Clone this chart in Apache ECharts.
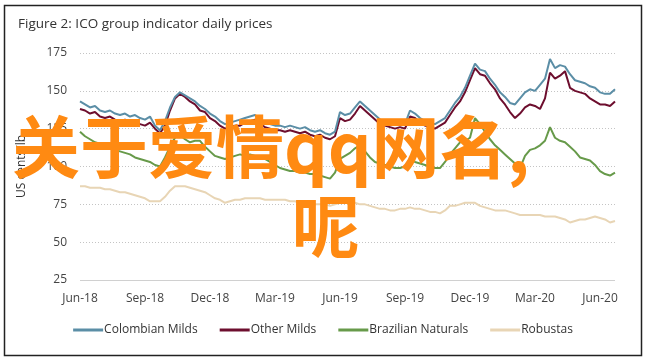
<!DOCTYPE html>
<html><head><meta charset="utf-8">
<script src="https://cdn.jsdelivr.net/npm/echarts@6/dist/echarts.min.js"></script>
<style>html,body{margin:0;padding:0;background:#fff}#c{width:646px;height:360px}</style>
</head><body><div id="c"></div>
<script>
const tickLabels = ['Jun-18','Sep-18','Dec-18','Mar-19','Jun-19','Sep-19','Dec-19','Mar-20','Jun-20'];
const seriesNames = ['Colombian Milds','Other Milds','Brazilian Naturals','Robustas'];
const colombian = [143,141,139,140,137,136,137,135,134,135,133,134,132,131,133,127,124,130,139,146,149,147,145,143,140,138,135,133,130,128,129,130,131,132,133,134,131,129,128,127,127,126,127,126,125,126,124,123,124,122,121,123,136,134,135,139,143,140,137,134,131,130,129,128,129,128,137,135,132,130,129,128,130,132,137,142,146,152,160,168,164,163,158,154,149,146,142,141,145,149,151,150,154,158,171,165,167,166,161,157,156,155,153,152,149,148,148,151];
const otherMilds = [138,137,135,136,133,132,133,131,130,131,129,130,128,127,129,125,122,127,137,145,148,146,143,141,137,136,132,130,127,125,126,127,127,129,130,131,128,126,125,124,124,123,124,123,122,123,121,120,121,119,118,120,132,130,131,135,140,137,134,131,128,127,126,125,126,125,133,132,129,127,126,125,127,129,134,139,143,149,157,165,161,160,155,151,145,141,136,132,135,139,141,140,138,145,162,158,160,163,152,150,149,148,145,143,141,141,140,143];
const brazilian = [123,120,118,116,115,113,112,111,110,109,108,106,105,104,103,101,100,106,113,119,121,118,116,117,117,113,110,107,106,105,106,107,108,107,108,107,107,105,103,101,99,98,97,97,96,96,95,95,94,93,92,96,105,107,109,112,114,110,106,103,102,101,100,99,99,100,105,103,102,101,100,99,99,103,108,112,116,117,119,132,128,123,118,114,111,108,105,102,99,107,111,112,114,117,126,119,117,116,113,110,106,105,104,101,97,95,94,96];
const robustas = [87,87,86,86,86,85,85,84,83,83,82,81,80,79,77,77,77,80,84,87,87,87,86,85,84,83,81,79,78,76,77,78,78,79,79,79,79,78,78,78,78,78,77,77,76,76,76,75,75,75,74,75,76,76,76,76,75,75,74,73,72,72,71,71,72,72,73,72,72,71,70,70,69,71,74,74,75,76,76,76,74,73,72,71,71,71,70,69,68,68,68,68,68,67,67,67,66,65,63,64,65,65,66,67,66,65,63,64];
const colors = ['#5b8ea6','#6d0e2e','#679a4a','#e8d5b5'];
const weeks = colombian.map((_, i) => String(i));

const chart = echarts.init(document.getElementById('c'), null, {renderer:'canvas'});
const font = 'Open Sans';
chart.setOption({
  animation:false,
  title:{text:'Figure 2: ICO group indicator daily prices', left:13, top:12,
    textStyle:{fontFamily:font, fontSize:13.5, fontWeight:'normal', color:'#333'}},
  grid:{left:80, top:53, width:535, height:227, containLabel:false},
  legend:{top:319, left:'center', itemWidth:30, itemHeight:3, itemGap:22, icon:'rect',
    textStyle:{fontFamily:font, fontSize:12, color:'#333', padding:[0,0,0,-4]},
    data:seriesNames},
  xAxis:{type:'category', data:weeks, boundaryGap:false,
    axisLine:{show:false}, axisTick:{show:false}, splitLine:{show:false},
    axisLabel:{interval:12, margin:13, fontFamily:font, fontSize:12, color:'#444',
      formatter:(v,i)=> tickLabels[i/13] || ''}},
  yAxis:{type:'value', min:25, max:175, interval:25,
    name:'US cents/lb', nameLocation:'middle', nameGap:52, nameRotate:90,
    nameTextStyle:{fontFamily:font, fontSize:12, color:'#333'},
    axisLine:{show:false}, axisTick:{show:false},
    axisLabel:{margin:13, fontFamily:font, fontSize:12, color:'#444'},
    splitLine:{lineStyle:{type:[1,2], color:'#c4c4c4', width:1}}},
  series:[colombian, otherMilds, brazilian, robustas].map((d,k)=>({
    name:seriesNames[k], type:'line', data:d, showSymbol:false, symbol:'none',
    lineStyle:{color:colors[k], width:2}, itemStyle:{color:colors[k]}, z:10-k,
    markLine: k===0 ? {silent:true, symbol:'none', label:{show:false},
      lineStyle:{color:'#d0d0d0', type:'solid', width:1}, data:[{yAxis:25}]} : undefined
  })),
  graphic:[
    {type:'rect', left:2, top:3, shape:{width:637, height:350}, style:{fill:'none', stroke:'#222', lineWidth:1.5}, z:100},
    {type:'text', left:12, top:113, z:200, style:{text:'关于爱情qq网名,', fill:'#ff8a12',
      font:'bold 68px "Noto Sans CJK SC"'}},
    {type:'text', left:292, top:192, z:200, style:{text:'呢', fill:'#ff8a12',
      font:'bold 68px "Noto Sans CJK SC"'}}
  ]
});
</script></body></html>
